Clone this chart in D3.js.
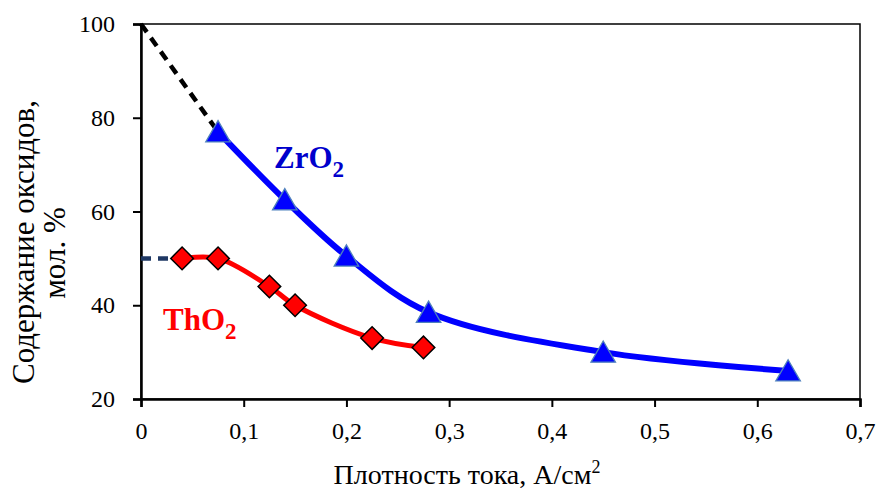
<!DOCTYPE html>
<html><head><meta charset="utf-8">
<script src="https://cdn.jsdelivr.net/npm/d3@7"></script>
<style>body{margin:0;background:#fff}svg{display:block}svg text{font-family:'Liberation Serif','Times New Roman',serif !important}</style>
</head><body>
<script>
const xTicks = [0, 0.1, 0.2, 0.3, 0.4, 0.5, 0.6, 0.7];
const yTicks = [20, 40, 60, 80, 100];
const zrX = [0.075, 0.14, 0.2, 0.28, 0.45, 0.63];
const zrY = [77, 62.5, 50.5, 38.5, 30, 26];
const zrExtX = [0, 0.075];
const zrExtY = [100, 77];
const thX = [0.04, 0.075, 0.125, 0.15, 0.225, 0.275];
const thY = [50, 50, 44, 40, 33, 31];
const thExtX = [0, 0.04];
const thExtY = [50, 50];

const W = 877, H = 491;
const m = {left: 141, right: 17, top: 24, bottom: 92};
const svg = d3.select("body").append("svg").attr("width", W).attr("height", H);
const x = d3.scaleLinear().domain([0, 0.7]).range([m.left, W - m.right]);
const y = d3.scaleLinear().domain([20, 100]).range([H - m.bottom, m.top]);
const font = "'Liberation Serif','Times New Roman',serif";

// frame
svg.append("rect").attr("x", x(0)).attr("y", y(100)).attr("width", x(0.7) - x(0)).attr("height", y(20) - y(100))
  .attr("fill", "none").attr("stroke", "#000").attr("stroke-width", 1.5);

const xa = svg.append("g").attr("transform", `translate(0,${y(20)})`)
  .call(d3.axisBottom(x).tickValues(xTicks).tickSize(8).tickPadding(15).tickFormat(d => d === 0 ? "0" : d3.format(".1f")(d).replace(".", ",")));
const ya = svg.append("g").attr("transform", `translate(${x(0)},0)`)
  .call(d3.axisLeft(y).tickValues(yTicks).tickSize(8).tickPadding(18));
[xa, ya].forEach(a => {
  a.attr("font-family", font).attr("font-size", 24);
  a.select(".domain").attr("stroke-width", 2.5);
  a.selectAll(".tick line").attr("stroke-width", 2);
  a.selectAll("text").style("font-family", font).style("font-size", "24px").attr("fill", "#000");
});

// lines
const pts = (xs, ys) => xs.map((v, i) => [x(v), y(ys[i])]);
const smooth = d3.line().curve(d3.curveCatmullRom.alpha(0.5));
const straight = d3.line();
svg.append("path").attr("d", straight(pts(zrExtX, zrExtY))).attr("fill", "none").attr("stroke", "#000")
  .attr("stroke-width", 4.5).attr("stroke-dasharray", "10,7");
svg.append("path").attr("d", straight(pts(thExtX, thExtY))).attr("fill", "none").attr("stroke", "#1f3864")
  .attr("stroke-width", 4.5).attr("stroke-dasharray", "10,7");
svg.append("path").attr("d", smooth(pts(zrX, zrY))).attr("fill", "none").attr("stroke", "#0000ff").attr("stroke-width", 6);
svg.append("path").attr("d", smooth(pts(thX, thY))).attr("fill", "none").attr("stroke", "#ff0000").attr("stroke-width", 5);

// markers
svg.selectAll(".tri").data(pts(zrX, zrY)).join("path")
  .attr("d", d3.symbol(d3.symbolTriangle, 260)())
  .attr("transform", d => `translate(${d[0]},${d[1] + 3})`)
  .attr("fill", "#0000ff").attr("stroke", "#4f81bd").attr("stroke-width", 1.3);
svg.selectAll(".dia").data(pts(thX, thY)).join("rect")
  .attr("x", -8).attr("y", -8).attr("width", 16).attr("height", 16)
  .attr("transform", d => `translate(${d[0]},${d[1]}) rotate(45)`)
  .attr("fill", "#ff0000").attr("stroke", "#000").attr("stroke-width", 1.5);

// series labels
const zl = svg.append("text").attr("x", 274).attr("y", 168).style("font-family", font).attr("font-weight", "bold")
  .attr("font-size", 31).attr("fill", "#0000cc");
zl.append("tspan").text("ZrO");
zl.append("tspan").text("2").attr("font-size", 23).attr("dy", 9);
const tl = svg.append("text").attr("x", 163).attr("y", 330).style("font-family", font).attr("font-weight", "bold")
  .attr("font-size", 31).attr("fill", "#ff0000");
tl.append("tspan").text("ThO");
tl.append("tspan").text("2").attr("font-size", 23).attr("dy", 9);

// axis titles
const xt = svg.append("text").attr("x", 467).attr("y", 484).attr("text-anchor", "middle")
  .style("font-family", font).attr("font-size", 28).attr("fill", "#000");
xt.append("tspan").text("Плотность тока, А/см");
xt.append("tspan").text("2").attr("font-size", 18).attr("dy", -11);
const yt = svg.append("g").style("font-family", font).attr("font-size", 31).attr("fill", "#000");
yt.append("text").attr("transform", "translate(34,242) rotate(-90)").attr("text-anchor", "middle").text("Содержание оксидов,");
yt.append("text").attr("transform", "translate(65,253) rotate(-90)").attr("text-anchor", "middle").text("мол. %");
</script>
</body></html>
